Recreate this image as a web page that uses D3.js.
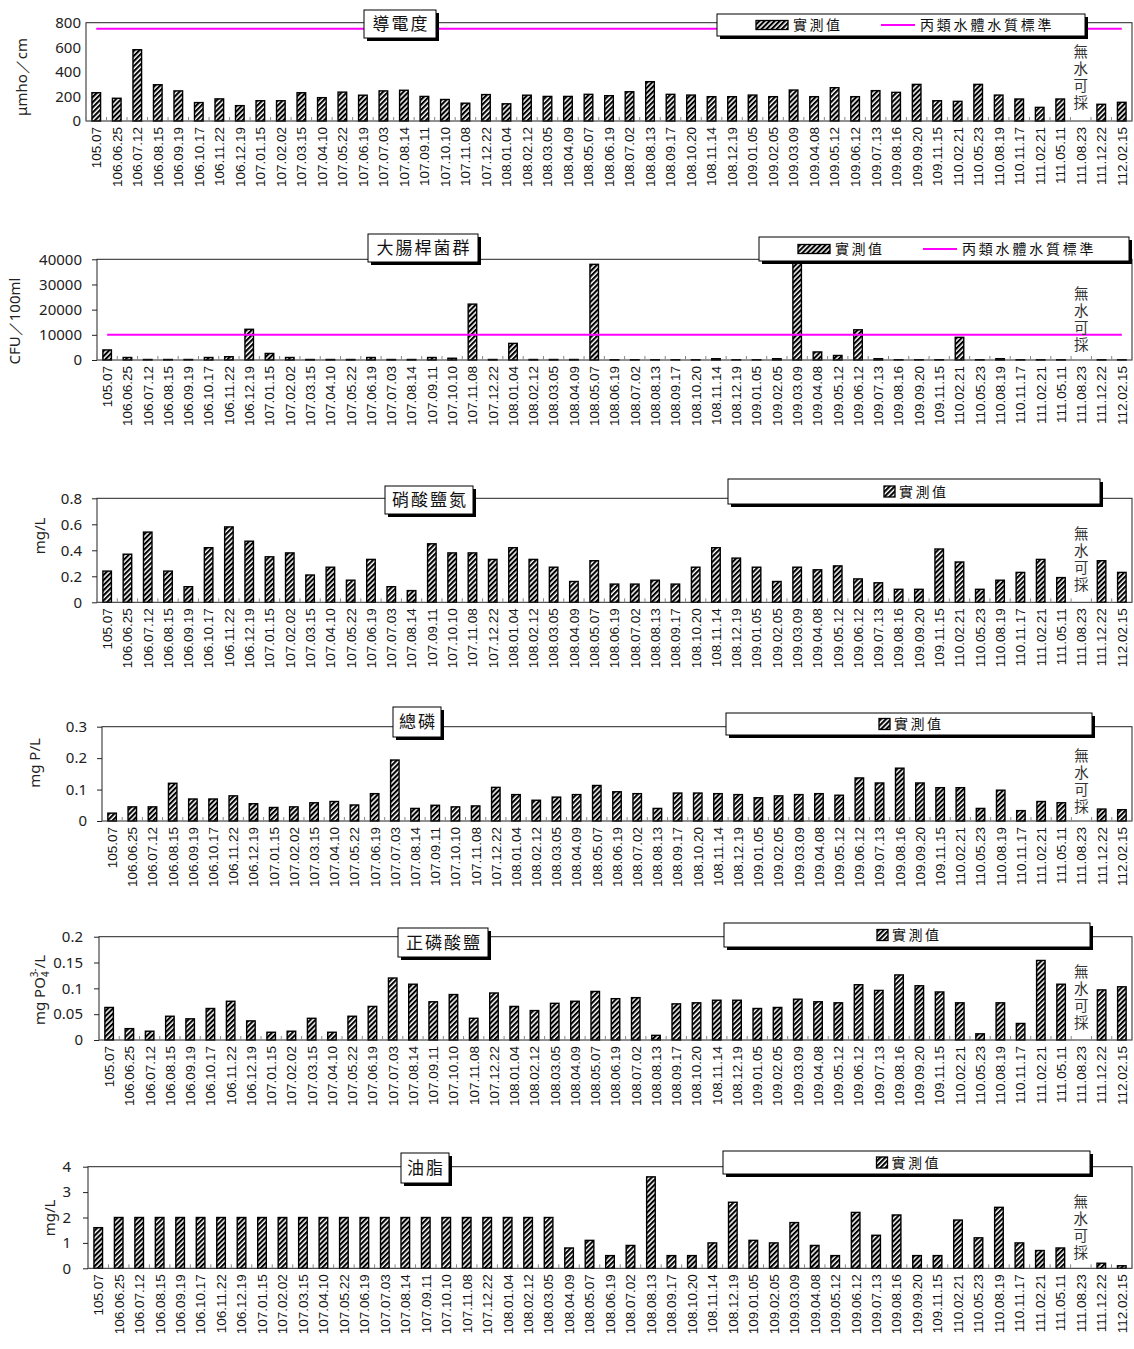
<!DOCTYPE html>
<html>
<head>
<meta charset="utf-8">
<script src="https://cdn.jsdelivr.net/npm/d3@7"></script>
<style>
  body { margin: 0; background: #fff; }
  svg { display: block; }
</style>
</head>
<body>
<svg id="chart" width="1134" height="1349"></svg>
<script>
// Sampling dates (ROC calendar)
const dates = ["105.07","106.06.25","106.07.12","106.08.15","106.09.19","106.10.17","106.11.22","106.12.19",
  "107.01.15","107.02.02","107.03.15","107.04.10","107.05.22","107.06.19","107.07.03","107.08.14","107.09.11",
  "107.10.10","107.11.08","107.12.22","108.01.04","108.02.12","108.03.05","108.04.09","108.05.07","108.06.19",
  "108.07.02","108.08.13","108.09.17","108.10.20","108.11.14","108.12.19","109.01.05","109.02.05","109.03.09",
  "109.04.08","109.05.12","109.06.12","109.07.13","109.08.16","109.09.20","109.11.15","110.02.21","110.05.23",
  "110.08.19","110.11.17","111.02.21","111.05.11","111.08.23","111.12.22","112.02.15"];

// Measured values (null = no water to sample)
const conductivity = [230,185,580,295,245,150,180,125,165,165,230,190,235,210,245,250,200,175,145,215,
  140,210,200,200,217,206,238,320,217,211,198,198,211,198,252,198,271,198,247,233,298,165,160,298,211,179,
  111,179,null,136,152];
const coliform = [4000,1000,200,200,200,1000,1300,12200,2600,1000,200,200,200,1000,200,200,1000,700,22200,200,
  6600,200,200,200,38000,100,100,100,100,100,500,100,100,500,39500,3200,1800,12000,500,100,100,100,9000,100,500,100,
  100,100,null,100,100];
const nitrate = [0.24,0.37,0.54,0.24,0.12,0.42,0.58,0.47,0.35,0.38,0.21,0.27,0.17,0.33,0.12,0.09,0.45,0.38,0.38,0.33,
  0.42,0.33,0.27,0.16,0.32,0.14,0.14,0.17,0.14,0.27,0.42,0.34,0.27,0.16,0.27,0.25,0.28,0.18,0.15,0.10,
  0.10,0.41,0.31,0.10,0.17,0.23,0.33,0.19,null,0.32,0.23];
const totalP = [0.025,0.045,0.045,0.12,0.07,0.07,0.08,0.055,0.043,0.045,0.058,0.062,0.051,0.087,0.194,0.04,0.05,0.045,0.048,0.107,
  0.084,0.066,0.076,0.084,0.113,0.093,0.087,0.04,0.089,0.089,0.087,0.084,0.074,0.08,0.084,0.087,0.082,0.137,0.121,0.168,
  0.121,0.106,0.106,0.04,0.098,0.033,0.062,0.058,null,0.038,0.036];
const orthoP = [0.063,0.022,0.017,0.046,0.041,0.061,0.075,0.037,0.015,0.017,0.042,0.015,0.046,0.065,0.12,0.108,0.074,0.088,0.042,0.091,
  0.065,0.057,0.071,0.075,0.094,0.08,0.082,0.009,0.07,0.072,0.077,0.077,0.061,0.063,0.079,0.074,0.072,0.107,0.096,0.126,
  0.105,0.093,0.072,0.012,0.072,0.032,0.154,0.108,null,0.097,0.103];
const oil = [1.6,2,2,2,2,2,2,2,2,2,2,2,2,2,2,2,2,2,2,2,
  2,2,2,0.8,1.1,0.5,0.9,3.6,0.5,0.5,1.0,2.6,1.1,1.0,1.8,0.9,0.5,2.2,1.3,2.1,
  0.5,0.5,1.9,1.2,2.4,1.0,0.7,0.8,null,0.2,0.1];

// Class C water body standards
const conductivityStd = 750;
const coliformStd = 10000;

// Y tick values
const conductivityTicks = [0,200,400,600,800];
const coliformTicks = [0,10000,20000,30000,40000];
const nitrateTicks = [0,0.2,0.4,0.6,0.8];
const totalPTicks = [0,0.1,0.2,0.3];
const orthoPTicks = [0,0.05,0.1,0.15,0.2];
const oilTicks = [0,1,2,3,4];

const titles = ["導電度","大腸桿菌群","硝酸鹽氮","總磷","正磷酸鹽","油脂"];
const units = ["μmho／cm","CFU／100ml","mg/L","mg P/L",null,"mg/L"];
const seriesName = "實測值";
const stdName = "丙類水體水質標準";
const noWaterText = "無水可採";
const noWaterDate = "111.08.23";

const series = [
  { values: conductivity, ticks: conductivityTicks, std: conductivityStd },
  { values: coliform, ticks: coliformTicks, std: coliformStd },
  { values: nitrate, ticks: nitrateTicks, std: null },
  { values: totalP, ticks: totalPTicks, std: null },
  { values: orthoP, ticks: orthoPTicks, std: null },
  { values: oil, ticks: oilTicks, std: null }
];

// Panel placement
const plotRight = 1132;
const layout = [
  { left: 86,  top: 22.7,   bottom: 121,    title: [364, 10, 72, 28],   legend: [717, 14, 368, 22],  unit: [22, 77],   noWater: 44,   gap: 5 },
  { left: 97,  top: 259.3,  bottom: 360,    title: [368, 234, 110, 28], legend: [759, 237, 370, 24], unit: [15, 321],  noWater: 286,  gap: 15 },
  { left: 97,  top: 498.3,  bottom: 602.3,  title: [385, 486, 88, 28],  legend: [728, 479, 372, 25], unit: [40, 536],  noWater: 526,  gap: 15 },
  { left: 102, top: 726.7,  bottom: 821,    title: [393, 707, 48, 30],  legend: [726, 713, 366, 22], unit: [35, 763],  noWater: 748,  gap: 15 },
  { left: 99,  top: 936.7,  bottom: 1040,   title: [398, 928, 90, 29],  legend: [724, 923, 366, 24], unit: [40, 990],  noWater: 964,  gap: 16 },
  { left: 88,  top: 1166.7, bottom: 1268.3, title: [401, 1153, 48, 30], legend: [723, 1151, 367, 23], unit: [50, 1218], noWater: 1194, gap: 17 }
];

const svg = d3.select("#chart");
const cjk = '"Noto Sans CJK TC", "Noto Sans CJK SC", sans-serif';

/*********************/
/*  Hatched pattern  */
/*********************/
const pat = svg.append("defs").append("pattern")
  .attr("id", "hatch")
  .attr("patternUnits", "userSpaceOnUse")
  .attr("width", 3.6).attr("height", 3.6)
  .attr("patternTransform", "rotate(45)");
pat.append("rect").attr("width", 3.6).attr("height", 3.6).attr("fill", "#fff");
pat.append("rect").attr("width", 2.1).attr("height", 3.6).attr("fill", "#000");

const shadowBox = (g, [x, y, w, h]) => {
  g.append("rect").attr("x", x + 3).attr("y", y + 3).attr("width", w).attr("height", h).attr("fill", "#000");
  g.append("rect").attr("x", x).attr("y", y).attr("width", w).attr("height", h)
    .attr("fill", "#fff").attr("stroke", "#000").attr("stroke-width", 1);
};

/*********************/
/*  Draw each panel  */
/*********************/
series.forEach((s, i) => {

  const L = layout[i];
  const g = svg.append("g");

  const x = d3.scaleBand().domain(dates).range([L.left, plotRight]).padding(0);
  const y = d3.scaleLinear().domain([0, d3.max(s.ticks)]).range([L.bottom, L.top]);
  const barW = x.bandwidth() * 0.42;

  // bars
  g.append("g").selectAll("rect")
    .data(dates.map((d, j) => ({ date: d, v: s.values[j] })).filter(d => d.v != null))
    .join("rect")
      .attr("x", d => x(d.date) + (x.bandwidth() - barW) / 2)
      .attr("y", d => y(d.v))
      .attr("width", barW)
      .attr("height", d => y(0) - y(d.v))
      .attr("fill", "url(#hatch)")
      .attr("stroke", "#000")
      .attr("stroke-width", 1.4);

  // plot frame
  g.append("rect")
    .attr("x", L.left).attr("y", L.top)
    .attr("width", plotRight - L.left).attr("height", L.bottom - L.top)
    .attr("fill", "none").attr("stroke", "#222").attr("stroke-width", 1);

  // small category ticks on the baseline
  g.append("g").selectAll("line")
    .data(d3.range(dates.length + 1))
    .join("line")
      .attr("x1", k => L.left + k * x.bandwidth())
      .attr("x2", k => L.left + k * x.bandwidth())
      .attr("y1", L.bottom).attr("y2", L.bottom - 4)
      .attr("stroke", "#888").attr("stroke-width", 1);

  // standard line
  if (s.std != null) {
    g.append("line")
      .attr("x1", x(dates[0]) + x.bandwidth() / 2)
      .attr("x2", x(dates[dates.length - 1]) + x.bandwidth() / 2)
      .attr("y1", y(s.std)).attr("y2", y(s.std))
      .attr("stroke", "#ff00ff").attr("stroke-width", 2);
  }

  // y axis
  const tick = i === 0 ? 0 : 5;
  const yAxis = g.append("g")
    .attr("transform", `translate(${L.left},0)`)
    .call(d3.axisLeft(y).tickValues(s.ticks).tickFormat(d => String(d)).tickSize(tick).tickPadding(L.gap - tick));
  yAxis.select(".domain").remove();
  yAxis.selectAll("line").attr("stroke", "#222");
  yAxis.selectAll("text")
    .attr("font-family", '"Noto Sans", sans-serif')
    .attr("font-size", 15).attr("fill", "#222");

  // x axis
  const xAxis = g.append("g")
    .attr("transform", `translate(0,${L.bottom})`)
    .call(d3.axisBottom(x).tickSize(0).tickPadding(0));
  xAxis.select(".domain").remove();
  xAxis.selectAll("text")
    .attr("font-family", '"Liberation Sans", Arial, sans-serif')
    .attr("font-size", 13.5).attr("fill", "#111")
    .attr("text-anchor", "end")
    .attr("transform", "rotate(-90)")
    .attr("x", -6).attr("y", 0).attr("dy", "0.36em");

  // y unit title
  const ut = g.append("text")
    .attr("transform", `translate(${L.unit[0]},${L.unit[1]}) rotate(-90)`)
    .attr("text-anchor", "middle").attr("dy", "0.35em")
    .attr("font-family", '"Noto Sans", sans-serif')
    .attr("font-size", 15).attr("fill", "#222");
  if (units[i] != null) {
    ut.text(units[i]);
  } else {
    ut.append("tspan").text("mg PO");
    ut.append("tspan").attr("font-size", 10).attr("dy", 4).text("4");
    ut.append("tspan").attr("font-size", 10).attr("dx", -6).attr("dy", -11).text("3-");
    ut.append("tspan").attr("dy", 7).text("/L");
  }

  // no water note, set vertically
  g.append("text")
    .attr("x", x(noWaterDate) + x.bandwidth() / 2)
    .attr("y", L.noWater)
    .attr("writing-mode", "vertical-rl")
    .attr("text-anchor", "start")
    .attr("letter-spacing", 2.5)
    .attr("font-family", cjk).attr("font-size", 14.5).attr("fill", "#333")
    .text(noWaterText);

  // title box
  shadowBox(g, L.title);
  g.append("text")
    .attr("x", L.title[0] + L.title[2] / 2 + 1)
    .attr("y", L.title[1] + L.title[3] / 2)
    .attr("dy", "0.36em").attr("text-anchor", "middle")
    .attr("font-family", cjk).attr("font-size", 17)
    .attr("letter-spacing", 2).attr("fill", "#111")
    .text(titles[i]);

  // legend
  shadowBox(g, L.legend);
  const [lx, ly, lw, lh] = L.legend;
  const cy = ly + lh / 2;
  if (s.std != null) {
    g.append("rect").attr("x", lx + 39).attr("y", cy - 4.5).attr("width", 32).attr("height", 9)
      .attr("fill", "url(#hatch)").attr("stroke", "#000").attr("stroke-width", 1.3);
    g.append("text").attr("x", lx + 76).attr("y", cy).attr("dy", "0.36em")
      .attr("font-family", cjk).attr("font-size", 14).attr("letter-spacing", 2.5).attr("fill", "#111")
      .text(seriesName);
    g.append("line").attr("x1", lx + 164).attr("x2", lx + 198).attr("y1", cy).attr("y2", cy)
      .attr("stroke", "#ff00ff").attr("stroke-width", 2);
    g.append("text").attr("x", lx + 203).attr("y", cy).attr("dy", "0.36em")
      .attr("font-family", cjk).attr("font-size", 14).attr("letter-spacing", 2.8).attr("fill", "#111")
      .text(stdName);
  } else {
    const mid = lx + lw / 2;
    g.append("rect").attr("x", mid - 30).attr("y", cy - 5.5).attr("width", 11).attr("height", 11)
      .attr("fill", "url(#hatch)").attr("stroke", "#000").attr("stroke-width", 1.3);
    g.append("text").attr("x", mid - 15).attr("y", cy).attr("dy", "0.36em")
      .attr("font-family", cjk).attr("font-size", 14).attr("letter-spacing", 2.5).attr("fill", "#111")
      .text(seriesName);
  }

});
</script>
</body>
</html>
